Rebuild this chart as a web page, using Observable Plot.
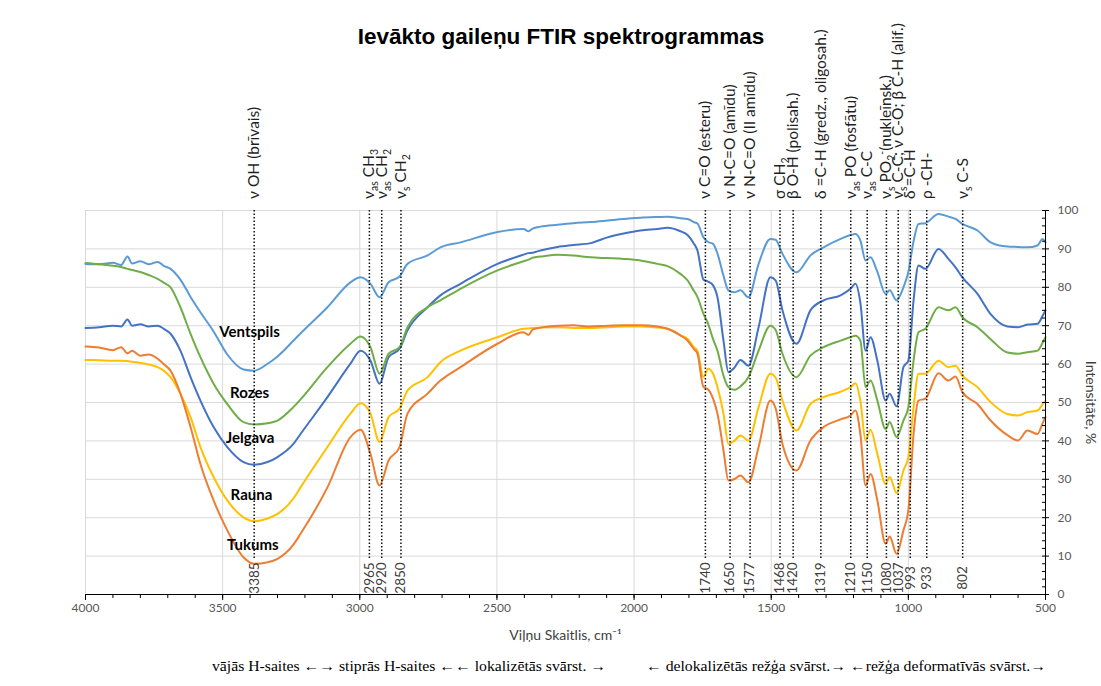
<!DOCTYPE html>
<html><head><meta charset="utf-8">
<script src="https://cdn.jsdelivr.net/npm/d3@7"></script>
<script src="https://cdn.jsdelivr.net/npm/@observablehq/plot@0.6"></script>
<style>
html,body{margin:0;padding:0;background:#fff;}
#wrap{width:1101px;height:686px;position:relative;overflow:hidden;background:#fff;}
#title{height:55px;box-sizing:border-box;padding-top:24px;padding-left:21px;text-align:center;font:bold 22.5px/26px "Liberation Sans",Arial,sans-serif;color:#000;}
#chart svg{display:block;}
#caption{position:relative;height:42px;font-family:"Liberation Serif","Times New Roman",serif;font-size:15px;color:#000;}
#caption span{position:absolute;top:12px;line-height:20px;white-space:pre;transform-origin:0 50%;}
</style></head><body>
<div id="wrap">
<div id="title">Ievākto gaileņu FTIR spektrogrammas</div>
<div id="chart"></div>
<div id="caption"><span id="c1"></span><span id="c2"></span></div>
</div>
<script>
// ---- data ----
const wavenumbers = [4000,3950,3900,3870,3847,3830,3800,3770,3737,3715,3690,3654,3617,3581,3533,3483,3424,3385,3336,3300,3242,3216,3118,3034,2997,2961,2928,2895,2855,2826,2753,2706,2633,2498,2403,2385,2370,2341,2279,2221,2159,2097,2038,1977,1915,1878,1831,1805,1783,1769,1747,1730,1712,1696,1674,1656,1635,1612,1583,1546,1503,1484,1459,1408,1357,1309,1247,1211,1193,1175,1156,1138,1113,1083,1068,1043,1018,1000,981,963,938,890,854,828,803,748,700,639,600,566,529,511,500];
const ventspils = [86.1,86.0,86.4,85.8,88.0,86.2,86.8,86.0,86.6,85.6,84.8,82.0,77.5,73.5,68.5,62.5,58.6,58.3,60.1,62.0,66.1,68.0,74.8,81.3,82.6,80.9,77.4,81.3,82.8,86.1,88.3,90.4,91.7,94.4,95.2,94.6,95.3,95.8,96.3,96.7,97.0,97.4,97.8,98.1,98.3,98.4,98.0,97.8,97.0,96.6,93.0,91.8,91.3,88.8,83.0,79.2,78.7,79.2,77.4,86.1,92.6,92.4,88.7,83.9,88.3,90.4,92.6,93.6,93.9,92.2,87.0,87.8,84.0,78.3,79.2,76.6,80.0,84.0,92.0,96.5,96.7,99.1,98.4,97.8,96.5,94.8,91.7,90.6,90.5,90.4,90.9,92.6,91.7];
const jelgava = [69.4,69.6,70.0,69.8,71.6,70.0,70.4,69.8,70.0,69.2,67.9,63.5,56.6,50.5,43.6,38.4,34.5,33.8,34.5,35.8,39.2,41.8,51.4,60.1,63.5,60.9,54.9,61.8,64.0,68.8,74.8,77.9,80.9,86.1,88.5,88.9,89.0,89.6,90.5,91.0,91.5,93.0,94.0,94.8,95.2,95.5,94.6,93.6,91.5,89.6,82.0,81.5,80.5,77.4,66.1,57.9,59.0,61.1,59.6,69.6,82.6,81.8,74.0,65.3,74.0,76.6,77.9,79.6,80.9,76.0,63.5,67.0,60.9,50.5,52.3,49.0,59.2,60.9,76.6,85.7,84.8,90.0,87.4,85.2,82.6,78.3,73.0,69.8,69.6,70.3,70.5,72.5,74.0];
const rozes = [86.3,86.0,85.6,85.3,84.8,84.5,84.0,83.2,82.2,81.2,80.0,74.8,67.9,61.8,54.9,49.6,44.9,44.3,44.6,45.3,48.8,50.8,59.2,65.3,67.2,64.4,57.5,62.7,64.4,69.6,74.8,76.6,79.6,84.4,86.8,87.2,87.7,88.0,88.5,88.3,87.8,87.6,87.4,87.0,86.1,85.5,83.5,81.8,79.2,77.5,73.1,70.5,66.5,63.5,57.0,54.0,53.3,54.2,56.6,63.5,70.0,68.9,62.7,56.6,62.2,64.4,66.1,67.0,67.4,66.1,54.0,55.7,50.5,43.1,44.9,41.0,45.3,48.8,60.9,68.3,69.2,74.8,74.0,74.8,72.2,69.6,66.5,63.0,62.7,63.1,63.5,65.5,67.0];
const rauna = [61.1,61.0,60.9,60.9,60.8,60.6,60.3,59.9,59.2,58.3,56.6,52.3,46.2,38.4,30.6,24.5,20.1,19.1,19.8,21.0,25.0,27.9,38.4,47.1,49.8,47.1,39.7,46.2,48.4,53.1,56.6,60.5,63.5,67.0,69.2,69.3,69.4,69.5,69.6,69.4,69.4,69.6,69.8,69.8,69.5,69.2,67.5,66.6,64.5,63.5,56.6,58.8,57.5,54.0,47.1,39.2,40.0,41.4,40.1,48.8,57.5,56.5,50.5,42.7,49.6,51.4,52.8,54.0,55.0,50.5,40.1,42.9,36.6,28.8,30.6,26.4,32.3,35.8,48.8,57.5,57.5,60.9,59.2,59.6,57.0,54.0,50.1,47.0,46.6,47.5,47.9,49.5,50.5];
const tukums = [64.6,64.3,63.6,64.4,62.8,63.5,62.2,62.5,61.4,60.0,58.3,52.3,43.6,34.0,24.5,16.7,9.7,8.0,8.4,9.3,13.0,15.8,27.9,41.0,42.9,36.6,28.4,34.9,38.4,47.1,52.3,55.7,59.2,65.3,68.3,67.6,69.0,69.5,70.0,70.1,69.8,70.0,70.1,70.1,69.8,69.2,67.5,66.1,64.0,62.7,54.0,53.4,51.0,47.1,37.5,29.7,30.0,31.0,29.2,38.4,50.5,48.5,39.2,32.3,40.1,43.6,45.6,46.6,47.9,41.8,28.4,31.4,24.5,13.2,15.1,10.6,16.7,21.9,41.8,50.5,51.0,57.6,55.7,56.8,52.7,49.6,45.3,41.5,40.1,42.7,41.8,44.5,46.2];

const seriesNames = ["Ventspils", "Rozes", "Jelgava", "Rauna", "Tukums"];
const seriesColors = ["#5B9BD5", "#70AD47", "#4472C4", "#FFC000", "#ED7D31"];
const seriesLabelWn = [3402, 3402, 3400, 3395, 3390];
const seriesLabelY = [68.2, 52.3, 40.6, 25.8, 12.8];

const bandWn = [3385, 2965, 2920, 2850, 1740, 1650, 1577, 1468, 1420, 1319, 1210, 1150, 1080, 1037, 993, 933, 802];
const bandNames = [
  "ν OH (brīvais)",
  "ν_{as} CH_{3}",
  "ν_{as} CH_{2}",
  "ν_{s} CH_{2}",
  "ν C=O (esteru)",
  "ν N-C=O (amīdu)",
  "ν N-C=O (II amīdu)",
  "σ CH_{2}",
  "β O-H (polisah.)",
  "δ =C-H (gredz., oligosah.)",
  "ν_{as} PO (fosfātu)",
  "ν_{as} C-C",
  "ν_{s} PO_{2}^{-}(nukleīnsk.)",
  "ν_{s} C-C; ν C-O; β C-H (alif.)",
  "δ =C-H",
  "ρ -CH-",
  "ν_{s} C-S"
];
const xTicks = [4000, 3500, 3000, 2500, 2000, 1500, 1000, 500];
const yTicks = [0, 10, 20, 30, 40, 50, 60, 70, 80, 90, 100];
const xLabel = "Viļņu Skaitlis, cm⁻¹";
const yLabel = "Intensitāte, %";
const captionLeft = "vājās H-saites ←→ stiprās H-saites ←← lokalizētās svārst. →";
const captionRight = "← delokalizētās režģa svārst.→ ←režģa deformatīvās svārst.→";

// ---- build ----
const seriesValues = {Ventspils: ventspils, Rozes: rozes, Jelgava: jelgava, Rauna: rauna, Tukums: tukums};
const drawOrder = ["Ventspils", "Jelgava", "Rozes", "Rauna", "Tukums"];
const rows = drawOrder.flatMap(name => wavenumbers.map((w, i) => ({series: name, wn: w, v: seriesValues[name][i]})));
const bands = bandWn.map((w, i) => ({wn: w, name: bandNames[i], num: String(w)}));
const labels = seriesNames.map((n, i) => ({n, wn: seriesLabelWn[i], v: seriesLabelY[i]}));

const chart = Plot.plot({
  width: 1101,
  height: 589,
  marginLeft: 85,
  marginRight: 56,
  marginTop: 155,
  marginBottom: 50,
  style: {fontFamily: "Lato, 'Open Sans', sans-serif", background: "#fff", overflow: "visible"},
  x: {domain: [4000, 500], axis: null},
  y: {domain: [0, 100], axis: null},
  color: {domain: seriesNames, range: seriesColors},
  marks: [
    Plot.gridY({ticks: yTicks.slice(1), stroke: "#d9d9d9", strokeOpacity: 1}),
    Plot.gridX({ticks: xTicks, stroke: "#d9d9d9", strokeOpacity: 1}),
    Plot.line(rows, {x: "wn", y: "v", z: "series", stroke: "series", strokeWidth: 2, curve: "monotone-x"}),
    Plot.ruleX(bands, {x: "wn", y1: 100, y2: 9, stroke: "#111", strokeWidth: 1.5, strokeDasharray: "1.5,2"}),
    Plot.ruleY([0], {stroke: "#000"}),
    Plot.ruleX([500], {stroke: "#000"}),
    Plot.axisX({ticks: d3.range(500, 4001, 100), tickSize: 4, tickFormat: () => "", label: null, stroke: "#000"}),
    Plot.axisX({ticks: xTicks, tickSize: 6, tickPadding: 3, tickFormat: d3.format("d"), label: null, stroke: "#000", fill: "#595959", fontSize: 12}),
    Plot.axisY({anchor: "right", ticks: d3.range(0, 101, 2), tickSize: -4, tickFormat: () => "", label: null, stroke: "#000"}),
    Plot.axisY({anchor: "right", ticks: yTicks, tickSize: 3, tickPadding: 9, tickFormat: d3.format("d"), label: null, stroke: "#000", fill: "#595959", fontSize: 12}),
    Plot.text(bands, {x: "wn", y: 103, text: "name", rotate: -90, textAnchor: "start", fontSize: 15.5, fill: "#1f1f1f"}),
    Plot.text(bands, {x: "wn", y: 4.3, text: "num", rotate: -90, fontSize: 13.5, fill: "#404040"}),
    Plot.text(labels, {x: "wn", y: "v", text: "n", fontWeight: "bold", fontSize: 15, fill: "#000"}),
    Plot.text([xLabel], {frameAnchor: "bottom", dy: 45, fontSize: 14, fill: "#404040"}),
    Plot.text([yLabel], {frameAnchor: "right", rotate: 90, dx: 45, textAnchor: "middle", fontSize: 14, fill: "#404040"})
  ]
});
document.getElementById("chart").appendChild(chart);

// subscript / superscript markup -> tspans
d3.select(chart).selectAll("text").each(function() {
  const raw = this.textContent;
  if (!/[_^]\{/.test(raw)) return;
  const sel = d3.select(this);
  sel.text(null);
  const parts = raw.split(/(_\{[^}]*\}|\^\{[^}]*\})/).filter(p => p);
  let shift = 0;
  for (const p of parts) {
    let target = 0, txt = p, small = false;
    if (p.startsWith("_{")) { target = 4; txt = p.slice(2, -1); small = true; }
    else if (p.startsWith("^{")) { target = -5; txt = p.slice(2, -1); small = true; }
    const ts = sel.append("tspan").text(txt).attr("dy", (target - shift) + "px");
    if (small) ts.attr("font-size", "10.5px");
    shift = target;
  }
});

// caption
const c1 = document.getElementById("c1"), c2 = document.getElementById("c2");
c1.textContent = captionLeft; c2.textContent = captionRight;
c1.style.left = "212px"; c2.style.left = "646px";
const fit = (el, w) => { const r = el.getBoundingClientRect().width; el.style.transform = `scaleX(${w / r})`; };
fit(c1, 394); fit(c2, 400);
</script>
</body></html>
